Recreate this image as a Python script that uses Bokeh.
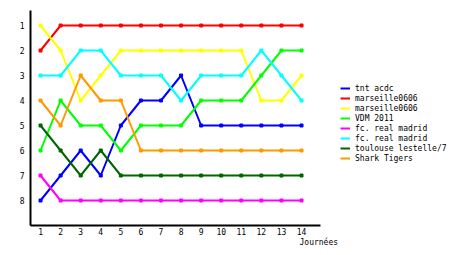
from bokeh.plotting import figure
from bokeh.models import Range1d, FixedTicker, Legend, LegendItem, Title
from bokeh.embed import file_html
from bokeh.resources import INLINE

journees = list(range(1, 15))
names = ["tnt acdc", "marseille0606", "marseille0606", "VDM 2011",
         "fc. real madrid", "fc. real madrid", "toulouse lestelle/7", "Shark Tigers"]
colors = ["#0000ff", "#ff0000", "#ffff00", "#00ff00",
          "#ff00ff", "#00ffff", "#006600", "#ff9900"]
tnt_acdc = [8, 7, 6, 7, 5, 4, 4, 3, 5, 5, 5, 5, 5, 5]
marseille_red = [2, 1, 1, 1, 1, 1, 1, 1, 1, 1, 1, 1, 1, 1]
marseille_yellow = [1, 2, 4, 3, 2, 2, 2, 2, 2, 2, 2, 4, 4, 3]
vdm_2011 = [6, 4, 5, 5, 6, 5, 5, 5, 4, 4, 4, 3, 2, 2]
real_magenta = [7, 8, 8, 8, 8, 8, 8, 8, 8, 8, 8, 8, 8, 8]
real_cyan = [3, 3, 2, 2, 3, 3, 3, 4, 3, 3, 3, 2, 3, 4]
toulouse = [5, 6, 7, 6, 7, 7, 7, 7, 7, 7, 7, 7, 7, 7]
shark_tigers = [4, 5, 3, 4, 4, 6, 6, 6, 6, 6, 6, 6, 6, 6]
series = [tnt_acdc, marseille_red, marseille_yellow, vdm_2011,
          real_magenta, real_cyan, toulouse, shark_tigers]
rank_ticks = [1, 2, 3, 4, 5, 6, 7, 8]
x_label = "Journées"

FONT = "DejaVu Sans Mono"

p = figure(width=460, height=255, output_backend="svg", toolbar_location=None,
           x_range=Range1d(0.5, 21.67), y_range=Range1d(9, 0.4),
           min_border_left=30, min_border_right=5, min_border_top=10,
           min_border_bottom=30)
p.outline_line_color = None
p.grid.visible = False
p.background_fill_color = "white"
p.border_fill_color = "white"

for ax in (p.xaxis[0], p.yaxis[0]):
    ax.axis_line_width = 2
    ax.axis_line_color = "black"
    ax.major_tick_line_color = None
    ax.minor_tick_line_color = None
    ax.major_label_text_font = FONT
    ax.major_label_text_font_size = "8px"
    ax.major_label_text_color = "black"
p.xaxis.ticker = FixedTicker(ticks=journees)
p.xaxis.bounds = (0.5, 14.95)
p.yaxis.ticker = FixedTicker(ticks=rank_ticks)
p.xaxis.major_label_standoff = -4
p.yaxis.major_label_standoff = 0

items = []
for name, color, vals in zip(names, colors, series):
    r = p.line(journees, vals, line_color=color, line_width=2)
    p.scatter(journees, vals, marker="square", size=3, color=color)
    items.append(LegendItem(label=name, renderers=[r]))

legend = Legend(items=items, location=(310, 62), orientation="vertical",
                padding=0, margin=0, spacing=0, label_height=10, glyph_height=10,
                glyph_width=10, label_standoff=5, background_fill_alpha=0,
                border_line_color=None, label_text_font=FONT,
                label_text_font_size="8px", label_text_color="black")
p.add_layout(legend, "center")

p.add_layout(Title(text=x_label, align="left", offset=269, text_font=FONT,
                   text_font_size="8px", text_font_style="normal",
                   text_color="black", standoff=-3), "below")

open("out.html", "w").write(file_html(p, INLINE))
